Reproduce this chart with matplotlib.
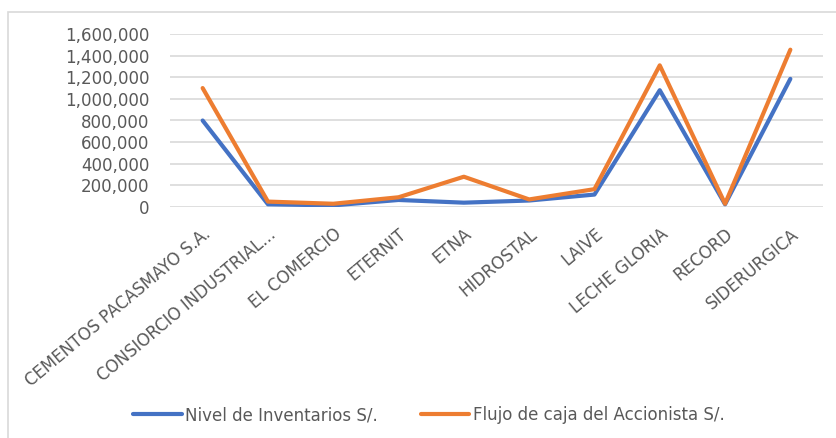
import matplotlib.pyplot as plt
from matplotlib.patches import Rectangle
from matplotlib.ticker import FuncFormatter

empresas = ["CEMENTOS PACASMAYO S.A.", "CONSIORCIO INDUSTRIAL...", "EL COMERCIO",
            "ETERNIT", "ETNA", "HIDROSTAL", "LAIVE", "LECHE GLORIA", "RECORD",
            "SIDERURGICA"]
inventarios = [800000, 25000, 15000, 65000, 40000, 60000, 115000, 1080000, 25000, 1185000]
flujo_caja = [1100000, 50000, 30000, 90000, 280000, 70000, 165000, 1310000, 30000, 1455000]

plt.rcParams['font.family'] = ['DejaVu Sans']
gris = "#595959"

fig = plt.figure(figsize=(8.36, 4.38), dpi=100)
# marco del area del grafico
fig.patches.append(Rectangle((8/836, -0.05), 1.0, 1 - 12/438 + 0.05, transform=fig.transFigure,
                             fill=False, edgecolor="#D9D9D9", linewidth=1.2))

ax = fig.add_axes([170/836, 1 - 207/438, 653/836, 173/438])
x = range(len(empresas))
ax.plot(x, inventarios, color="#4472C4", linewidth=3, solid_capstyle="round",
        label="Nivel de Inventarios S/.")
ax.plot(x, flujo_caja, color="#ED7D31", linewidth=3, solid_capstyle="round",
        label="Flujo de caja del Accionista S/.")

ax.set_xlim(-0.5, len(empresas) - 0.5)
ax.set_ylim(0, 1600000)
ax.set_yticks(range(0, 1600001, 200000))
ax.yaxis.set_major_formatter(FuncFormatter(lambda v, p: f"{int(v):,}"))
ax.grid(axis="y", color="#D9D9D9", linewidth=1.2)
ax.set_axisbelow(True)
for s in ax.spines.values():
    s.set_visible(False)
ax.tick_params(axis="both", length=0, colors=gris, labelsize=12)
ax.tick_params(axis="y", pad=15)
ax.tick_params(axis="x", pad=13)
ax.set_xticks(list(x))
ax.set_xticklabels(empresas, rotation=40, ha="right", rotation_mode="anchor")

leg = fig.legend(loc="center", bbox_to_anchor=(0.513, 1 - 415/438), ncol=2, frameon=False,
                 fontsize=12, handlelength=2.9, handletextpad=0.2, columnspacing=2.6)
for t in leg.get_texts():
    t.set_color(gris)

fig.savefig("out.png", dpi=100)
